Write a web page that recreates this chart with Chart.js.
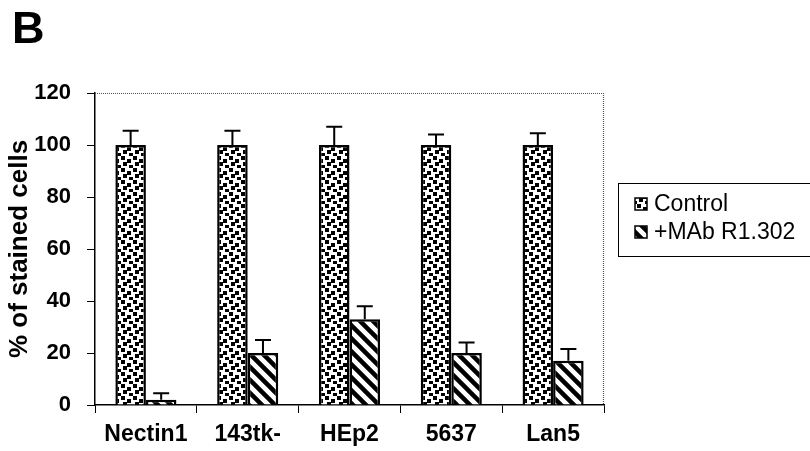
<!DOCTYPE html>
<html>
<head>
<meta charset="utf-8">
<script src="https://cdn.jsdelivr.net/npm/chart.js@4"></script>
<style>
  body { margin: 0; background: #fff; }
  #wrap { position: relative; width: 810px; height: 451px; }
  #panel { position: absolute; left: 12px; top: 5px; font: bold 45px/45px Arial, "Liberation Sans", sans-serif; color: #000; }
</style>
</head>
<body>
<div id="wrap">
  <canvas id="chart" width="810" height="451"></canvas>
  <div id="panel">B</div>
</div>
<script>
// ===== DATA =====
const categories = ["Nectin1", "143tk-", "HEp2", "5637", "Lan5"];
const seriesNames = ["Control", "+MAb R1.302"];
const controlValues = [100, 100, 100, 100, 100];
const controlErrors = [5.5, 5.5, 7, 4, 4.5];
const mabValues = [2, 20, 33, 20, 17];
const mabErrors = [2.5, 5, 5, 4, 4.5];
const yTicks = [0, 20, 40, 60, 80, 100, 120];

const FONT = "Arial, 'Liberation Sans', sans-serif";

// ===== PATTERNS =====
function dotPattern() {
  const c = document.createElement("canvas");
  c.width = 12; c.height = 12;
  const g = c.getContext("2d");
  g.fillStyle = "#fff";
  g.fillRect(0, 0, 12, 12);
  g.fillStyle = "#000";
  g.fillRect(1, 0, 4, 4);
  g.fillRect(7, 3, 4, 4);
  g.fillRect(3, 6, 4, 4);
  g.fillRect(9, 9, 3, 3);
  g.fillRect(0, 9, 1, 3);
  return g.createPattern(c, "repeat");
}

function stripePattern() {
  const c = document.createElement("canvas");
  c.width = 13; c.height = 13;
  const g = c.getContext("2d");
  g.fillStyle = "#fff";
  g.fillRect(0, 0, 13, 13);
  g.strokeStyle = "#000";
  g.lineWidth = 4.5;
  g.beginPath();
  g.moveTo(-4, -4); g.lineTo(17, 17);
  g.moveTo(-17, -4); g.lineTo(4, 17);
  g.moveTo(9, -4); g.lineTo(30, 17);
  g.stroke();
  return g.createPattern(c, "repeat");
}

const controlFill = dotPattern();
const mabFill = stripePattern();
const errors = [controlErrors, mabErrors];

// ===== PLUGINS =====
const frame = {
  id: "frame",
  beforeDatasetsDraw(chart) {
    const { ctx, chartArea: a } = chart;
    ctx.save();
    ctx.strokeStyle = "#555";
    ctx.lineWidth = 1.2;
    ctx.setLineDash([1, 1]);
    ctx.beginPath();
    ctx.moveTo(a.left, a.top + 0.5);
    ctx.lineTo(a.right - 0.5, a.top + 0.5);
    ctx.lineTo(a.right - 0.5, a.bottom);
    ctx.stroke();
    ctx.restore();
  }
};

const errorBars = {
  id: "errorBars",
  afterDatasetsDraw(chart) {
    const { ctx } = chart;
    const y = chart.scales.y;
    ctx.save();
    ctx.strokeStyle = "#000";
    ctx.lineWidth = 2;
    chart.data.datasets.forEach((ds, i) => {
      chart.getDatasetMeta(i).data.forEach((bar, j) => {
        const top = y.getPixelForValue(ds.data[j] + errors[i][j]);
        ctx.beginPath();
        ctx.moveTo(bar.x, bar.y);
        ctx.lineTo(bar.x, top);
        ctx.moveTo(bar.x - 8, top);
        ctx.lineTo(bar.x + 8, top);
        ctx.stroke();
      });
    });
    ctx.restore();
  }
};

const boxLegend = {
  id: "boxLegend",
  afterDraw(chart) {
    const { ctx } = chart;
    ctx.save();
    ctx.strokeStyle = "#000";
    ctx.lineWidth = 1;
    ctx.strokeRect(618.5, 183.5, 200, 73);
    const rows = [204, 232];
    chart.data.datasets.forEach((ds, i) => {
      const cy = rows[i];
      ctx.fillStyle = ds.backgroundColor;
      ctx.fillRect(635, cy - 6, 12, 12);
      ctx.lineWidth = 1.5;
      ctx.strokeRect(635, cy - 6, 12, 12);
      ctx.fillStyle = "#000";
      ctx.font = "23px " + FONT;
      ctx.textBaseline = "middle";
      ctx.fillText(ds.label, 654, cy + 1);
    });
    ctx.restore();
  }
};

// ===== CHART =====
new Chart(document.getElementById("chart"), {
  type: "bar",
  data: {
    labels: categories,
    datasets: [
      {
        label: seriesNames[0],
        data: controlValues,
        backgroundColor: controlFill,
        borderColor: "#000",
        borderWidth: 2.5
      },
      {
        label: seriesNames[1],
        data: mabValues,
        backgroundColor: mabFill,
        borderColor: "#000",
        borderWidth: 2.5
      }
    ]
  },
  options: {
    responsive: false,
    animation: false,
    categoryPercentage: 0.6,
    barPercentage: 1.0,
    layout: { padding: { left: 0, top: 93, right: 206, bottom: 0 } },
    plugins: {
      legend: { display: false },
      tooltip: { enabled: false }
    },
    scales: {
      x: {
        afterFit: s => { s.height = 46; },
        grid: { offset: true, drawOnChartArea: false, tickLength: 8, color: "#000", lineWidth: 1 },
        border: { color: "#000", width: 1.5 },
        ticks: { color: "#000", padding: 8, font: { family: FONT, size: 23, weight: "bold" } }
      },
      y: {
        min: 0,
        max: 120,
        afterFit: s => { s.width = 95; },
        afterBuildTicks: s => { s.ticks = yTicks.map(v => ({ value: v })); },
        grid: { drawOnChartArea: false, tickLength: 8, color: "#000", lineWidth: 1 },
        border: { color: "#000", width: 1.5 },
        ticks: { color: "#000", padding: 16, font: { family: FONT, size: 22, weight: "bold" } },
        title: {
          display: true,
          text: "% of stained cells",
          color: "#000",
          padding: { top: 4, bottom: 0 },
          font: { family: FONT, size: 26, weight: "bold" }
        }
      }
    }
  },
  plugins: [frame, errorBars, boxLegend]
});
</script>
</body>
</html>
